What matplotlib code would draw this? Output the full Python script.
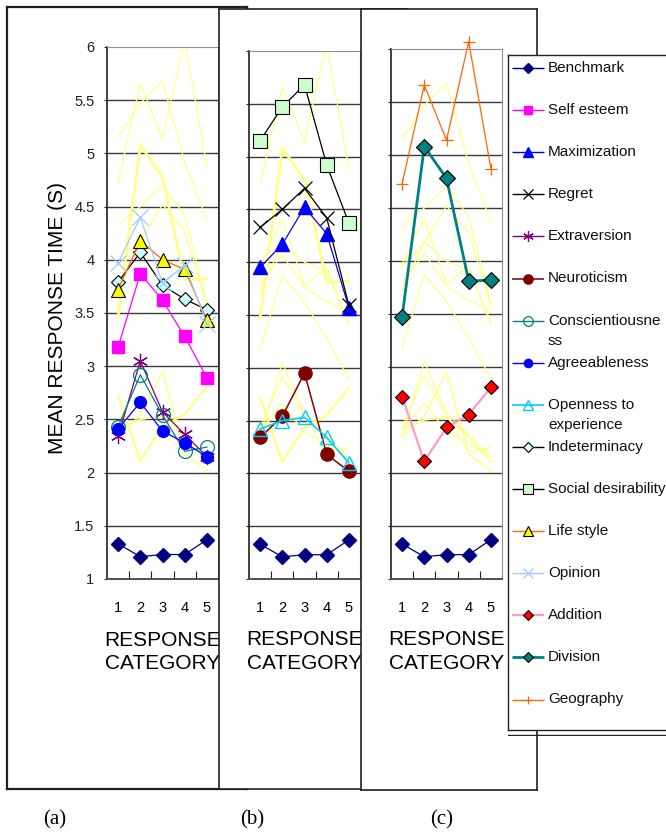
import matplotlib
matplotlib.use('Agg')
import matplotlib.pyplot as plt

plt.rcParams['font.family'] = ['Liberation Sans', 'DejaVu Sans']

W, H = 666, 834

# ---------------- data ----------------
categories = [1, 2, 3, 4, 5]
benchmark = [1.33, 1.21, 1.23, 1.23, 1.37]
self_esteem = [3.18, 3.87, 3.62, 3.28, 2.89]
maximization = [3.95, 4.17, 4.52, 4.27, 3.57]
regret = [4.33, 4.50, 4.70, 4.42, 3.59]
extraversion = [2.34, 3.05, 2.57, 2.36, 2.15]
neuroticism = [2.34, 2.54, 2.95, 2.18, 2.02]
conscientiousness = [2.43, 2.92, 2.54, 2.20, 2.24]
agreeableness = [2.41, 2.66, 2.39, 2.28, 2.15]
openness = [2.42, 2.50, 2.53, 2.34, 2.10]
indeterminacy = [3.79, 4.07, 3.76, 3.63, 3.53]
social_desirability = [5.15, 5.47, 5.68, 4.92, 4.37]
life_style = [3.72, 4.18, 4.00, 3.91, 3.43]
opinion = [3.97, 4.40, 3.78, 3.95, 3.40]
addition = [2.72, 2.11, 2.43, 2.55, 2.81]
division = [3.47, 5.08, 4.78, 3.81, 3.82]
geography = [4.73, 5.66, 5.14, 6.07, 4.87]

series_names = ['Benchmark', 'Self esteem', 'Maximization', 'Regret', 'Extraversion',
                'Neuroticism', 'Conscientiousness', 'Agreeableness', 'Openness to experience',
                'Indeterminacy', 'Social desirability', 'Life style', 'Opinion',
                'Addition', 'Division', 'Geography']
legend_labels = ['Benchmark', 'Self esteem', 'Maximization', 'Regret', 'Extraversion',
                 'Neuroticism', 'Conscientiousne\nss', 'Agreeableness', 'Openness to\nexperience',
                 'Indeterminacy', 'Social desirability', 'Life style', 'Opinion',
                 'Addition', 'Division', 'Geography']
series_values = [benchmark, self_esteem, maximization, regret, extraversion, neuroticism,
                 conscientiousness, agreeableness, openness, indeterminacy, social_desirability,
                 life_style, opinion, addition, division, geography]

panel_a = ['Benchmark', 'Self esteem', 'Extraversion', 'Conscientiousness', 'Agreeableness',
           'Indeterminacy', 'Life style', 'Opinion']
panel_b = ['Benchmark', 'Maximization', 'Regret', 'Neuroticism', 'Openness to experience',
           'Social desirability']
panel_c = ['Benchmark', 'Addition', 'Division', 'Geography']

y_ticks = [1, 1.5, 2, 2.5, 3, 3.5, 4, 4.5, 5, 5.5, 6]

# ---------------- styles ----------------
styles = {
    'Benchmark': dict(color='#000080', marker='D', mfc='#000080', mec='#000080', ms=7.5, lw=0.9),
    'Self esteem': dict(color='#FF00FF', marker='s', mfc='#FF00FF', mec='#FF00FF', ms=9, lw=0.9),
    'Maximization': dict(color='#0000FF', marker='^', mfc='#0000FF', mec='#0000FF', ms=10, lw=0.9),
    'Regret': dict(color='#000000', marker='x', mfc='none', mec='#000000', ms=10, mew=0.9, lw=0.9),
    'Extraversion': dict(color='#800080', marker=(6, 2, 0), mfc='none', mec='#800080', ms=11, mew=0.9, lw=0.9),
    'Neuroticism': dict(color='#800000', marker='o', mfc='#800000', mec='#800000', ms=9.5, lw=1.1),
    'Conscientiousness': dict(color='#008080', marker='o', mfc='none', mec='#008080', ms=10, mew=0.9, lw=0.9),
    'Agreeableness': dict(color='#0000FF', marker='o', mfc='#0000FF', mec='#0000FF', ms=8.5, lw=0.9),
    'Openness to experience': dict(color='#00CCFF', marker='^', mfc='none', mec='#00CCFF', ms=10, mew=1.0, lw=1.2),
    'Indeterminacy': dict(color='#000000', marker='D', mfc='#CCFFFF', mec='#000000', ms=7.5, mew=0.8, lw=0.9),
    'Social desirability': dict(color='#000000', marker='s', mfc='#CCFFCC', mec='#000000', ms=9.5, mew=0.8, lw=0.9),
    'Life style': dict(color='#FF6600', marker='^', mfc='#FFFF00', mec='#000000', ms=10, mew=0.8, lw=0.9),
    'Opinion': dict(color='#99CCFF', marker='x', mfc='none', mec='#99CCFF', ms=11, mew=0.9, lw=0.9),
    'Addition': dict(color='#FF99CC', marker='D', mfc='#FF0000', mec='#000000', ms=7.5, mew=0.8, lw=1.6),
    'Division': dict(color='#008080', marker='D', mfc='#008080', mec='#000000', ms=8, mew=0.8, lw=2.0),
    'Geography': dict(color='#FF6600', marker='+', mfc='none', mec='#FF6600', ms=8, mew=0.9, lw=0.9),
}
faint = '#FFFF88'

data = dict(zip(series_names, series_values))

fig = plt.figure(figsize=(W / 100, H / 100), dpi=100)


def rect(l, t, r, b):
    return [l / W, 1 - b / H, (r - l) / W, (b - t) / H]


def frame(l, t, r, b, z, lw=1.2):
    f = fig.add_axes(rect(l, t, r, b), zorder=z)
    f.set_xticks([])
    f.set_yticks([])
    f.set_facecolor('white')
    for s in f.spines.values():
        s.set_color('#202020')
        s.set_linewidth(lw)
    return f


def panel(pos, z, members, show_y):
    ax = fig.add_axes(pos, zorder=z)
    ax.set_facecolor('white')
    ax.set_xlim(0.5, 5.5)
    ax.set_ylim(1, 6)
    ax.set_yticks(y_ticks)
    ax.set_yticklabels([f'{v:g}' for v in y_ticks])
    ax.tick_params(axis='y', direction='out', length=2, width=0.8, labelsize=10.5, pad=7,
                   labelleft=show_y, colors='#202020')
    ax.set_xticks(categories)
    ax.set_xticklabels([str(c) for c in categories])
    ax.tick_params(axis='x', which='major', length=0, labelsize=10.5, pad=16)
    ax.set_xticks([1.5, 2.5, 3.5, 4.5], minor=True)
    ax.tick_params(axis='x', which='minor', direction='in', length=6, width=0.8, color='#202020')
    for v in y_ticks[1:-1]:
        ax.axhline(v, color='#3a3a3a', lw=1.0, zorder=0.5)
    ax.spines['left'].set_color('#202020')
    ax.spines['left'].set_linewidth(1.2)
    ax.spines['bottom'].set_color('#505050')
    ax.spines['bottom'].set_linewidth(1.4)
    ax.spines['top'].set_color('#909090')
    ax.spines['right'].set_color('#909090')
    # faint lines for series belonging to the other panels
    for name in series_names:
        if name == 'Benchmark' or name in members:
            continue
        ax.plot(categories, data[name], color=faint, lw=styles[name]['lw'], zorder=1)
    for i, name in enumerate(members):
        st = dict(styles[name])
        ax.plot(categories, data[name], zorder=3 + i * 0.01, clip_on=False, **st)
    ax.set_xlabel('RESPONSE\nCATEGORY', fontsize=15, linespacing=1.3)
    ax.xaxis.set_label_coords(0.5, -0.097)
    return ax


frame(7, 7, 247, 789, 0, lw=1.6)
ax_a = panel(rect(107, 47, 218, 579), 1, panel_a, True)
frame(219, 9, 407, 789, 2)
ax_b = panel(rect(249, 51, 360, 579), 3, panel_b, False)
frame(361, 9, 537, 790, 4)
ax_c = panel(rect(391, 49, 502, 579), 5, panel_c, False)

fig.text(58 / W, 1 - 318 / H, 'MEAN RESPONSE TIME (S)', rotation=90, ha='center', va='center',
         fontsize=15)

# legend box (drawn manually to keep Excel-like uniform rows)
leg = fig.add_axes(rect(508, 55, 700, 730), zorder=6)
leg.set_xlim(508, 700)
leg.set_ylim(730, 55)
leg.set_xticks([])
leg.set_yticks([])
leg.set_facecolor('white')
for s in leg.spines.values():
    s.set_color('#202020')
    s.set_linewidth(1.0)
pitch = 42.1
for i, name in enumerate(series_names):
    y = 68 + i * pitch
    st = dict(styles[name])
    lw = st.pop('lw')
    ms = st.pop('ms')
    color = st.pop('color')
    leg.plot([512, 544], [y, y], color=color, lw=max(lw, 1.0), solid_capstyle='butt')
    leg.plot([528], [y], color=color, ms=ms * 0.7, lw=0, **st)
    for k, line in enumerate(legend_labels[i].split('\n')):
        leg.text(548, y + k * 20, line, fontsize=11, va='center', ha='left', color='#101010')

# shadow line beneath the legend
shadow = fig.add_axes(rect(508, 733, 700, 736), zorder=6)
shadow.axis('off')
shadow.axhline(0.5, color='#202020', lw=1.0)

for lab, x in [('(a)', 55), ('(b)', 252), ('(c)', 442)]:
    fig.text(x / W, 1 - 820 / H, lab, ha='center', va='center', fontsize=15,
             family=['Liberation Serif', 'DejaVu Serif'])

fig.savefig('out.png', dpi=100)
